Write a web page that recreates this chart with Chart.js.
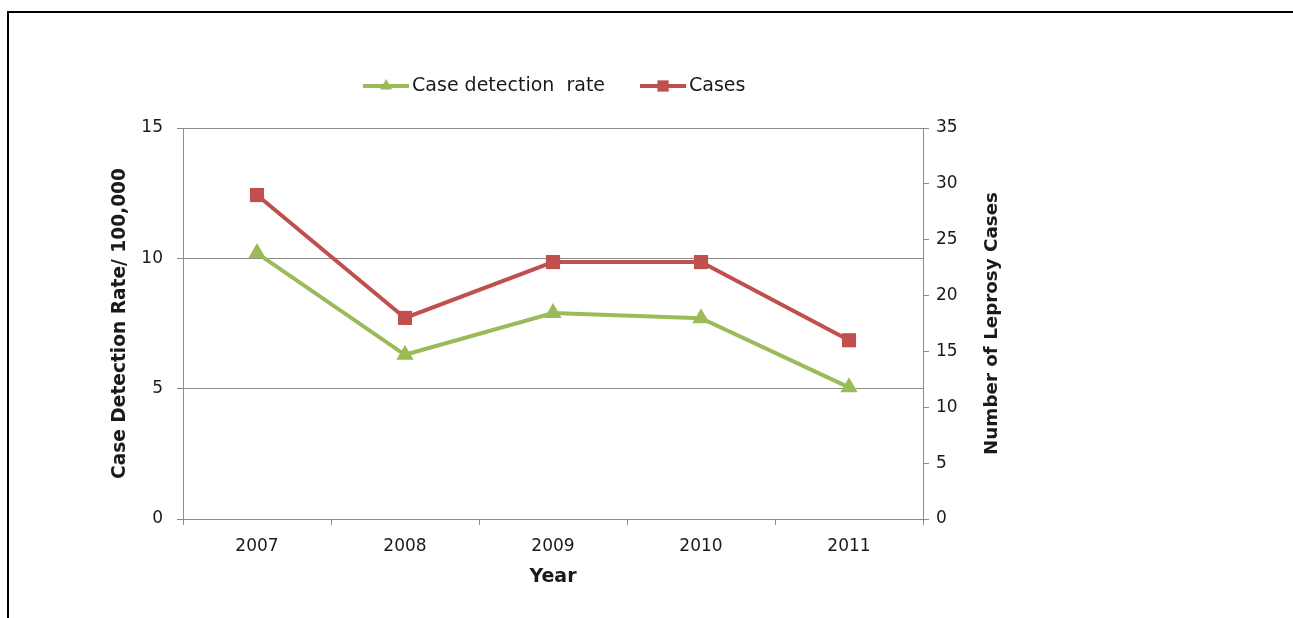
<!DOCTYPE html>
<html>
<head>
<meta charset="utf-8">
<title>Leprosy case detection</title>
<script src="https://cdn.jsdelivr.net/npm/chart.js@4.4.1/dist/chart.umd.min.js"></script>
<style>
  html, body { margin: 0; padding: 0; background: #fff; }
  #wrap { position: relative; width: 1293px; height: 618px; overflow: hidden; }
  #wrap canvas { position: absolute; left: 0; top: 0; }
  #frame { position: absolute; left: 7px; top: 11px; right: -10px; bottom: -10px;
           border-left: 2px solid #000; border-top: 2px solid #000; }
</style>
</head>
<body>
<div id="wrap">
  <canvas id="chart" width="1293" height="618"></canvas>
  <div id="frame"></div>
</div>
<script>
// data
const years = ['2007', '2008', '2009', '2010', '2011'];
const detectionRate = [10.2, 6.3, 7.9, 7.7, 5.05];
const leprosyCases = [29, 18, 23, 23, 16];
const rateTicks = [0, 5, 10, 15];
const caseTicks = [0, 5, 10, 15, 20, 25, 30, 35];

const GREEN = '#9bbb59';
const RED = '#c0504d';
const AXIS_GREY = '#8c8c8c';
const TEXT = '#1a1a1a';

Chart.defaults.font.family = '"DejaVu Sans", Verdana, sans-serif';
Chart.defaults.color = TEXT;

// legend icon: short line with the marker on it, like the office legend
function legendIcon(color, style) {
    const c = document.createElement('canvas');
    c.width = 46;
    c.height = 16;
    const g = c.getContext('2d');
    g.strokeStyle = color;
    g.fillStyle = color;
    g.lineWidth = 4;
    g.beginPath();
    g.moveTo(0, 8);
    g.lineTo(46, 8);
    g.stroke();
    Chart.helpers.drawPoint(g, { pointStyle: style, radius: style === 'rect' ? 8 : 7, borderWidth: 0 }, 23, 8);
    return c;
}
const legendIcons = [legendIcon(GREEN, 'triangle'), legendIcon(RED, 'rect')];

// extra room between the legend and the plot
const legendGap = {
    id: 'legendGap',
    beforeInit(chart) {
        const fit = chart.legend.fit;
        chart.legend.fit = function () {
            fit.call(this);
            this.height += 22.5;
        };
    }
};

// right axis title reads bottom-to-top in the original
const rightTitle = {
    id: 'rightTitle',
    afterDraw(chart) {
        const { ctx, chartArea } = chart;
        const scale = chart.scales.y1;
        ctx.save();
        ctx.font = 'bold 18.3px "DejaVu Sans", Verdana, sans-serif';
        ctx.fillStyle = TEXT;
        ctx.textAlign = 'center';
        ctx.textBaseline = 'middle';
        ctx.translate(scale.left + 69, (chartArea.top + chartArea.bottom) / 2);
        ctx.rotate(-Math.PI / 2);
        ctx.fillText('Number of Leprosy Cases', 0, 0);
        ctx.restore();
    }
};

const ctx = document.getElementById('chart');
new Chart(ctx, {
    type: 'line',
    data: {
        labels: years,
        datasets: [{
            label: 'Case detection  rate',
            data: detectionRate,
            yAxisID: 'y',
            borderColor: GREEN,
            backgroundColor: GREEN,
            borderWidth: 4,
            pointStyle: 'triangle',
            pointRadius: 10,
            pointBorderWidth: 0,
            tension: 0
        }, {
            label: 'Cases',
            data: leprosyCases,
            yAxisID: 'y1',
            borderColor: RED,
            backgroundColor: RED,
            borderWidth: 4,
            pointStyle: 'rect',
            pointRadius: 10,
            pointBorderWidth: 0,
            tension: 0
        }]
    },
    options: {
        responsive: false,
        animation: false,
        layout: { padding: { left: 100, right: 278, top: 35, bottom: 24 } },
        plugins: {
            tooltip: { enabled: false },
            legend: {
                position: 'top',
                labels: {
                    usePointStyle: true,
                    pointStyleWidth: 33,
                    padding: 41.5,
                    color: TEXT,
                    font: { size: 19 },
                    generateLabels(chart) {
                        const items = Chart.defaults.plugins.legend.labels.generateLabels(chart);
                        items.forEach((item, i) => { item.pointStyle = legendIcons[i]; });
                        return items;
                    }
                }
            }
        },
        scales: {
            x: {
                offset: true,
                grid: { offset: true, drawOnChartArea: false, color: AXIS_GREY, tickLength: 6 },
                border: { color: AXIS_GREY },
                ticks: { padding: 11, maxRotation: 0, font: { size: 17 } },
                title: {
                    display: true,
                    text: 'Year',
                    font: { size: 19, weight: 'bold' },
                    padding: { top: 0, bottom: 6 }
                },
                afterFit(scale) { scale.height = 75; }
            },
            y: {
                position: 'left',
                min: rateTicks[0],
                max: rateTicks[rateTicks.length - 1],
                ticks: { stepSize: rateTicks[1] - rateTicks[0], padding: 14, font: { size: 17 } },
                grid: { color: AXIS_GREY, tickLength: 6 },
                border: { color: AXIS_GREY },
                title: {
                    display: true,
                    text: 'Case Detection Rate/ 100,000',
                    font: { size: 18.6, weight: 'bold' },
                    padding: { top: 9, bottom: 0 }
                },
                afterFit(scale) { scale.width = 83; }
            },
            y1: {
                position: 'right',
                min: caseTicks[0],
                max: caseTicks[caseTicks.length - 1],
                ticks: { stepSize: caseTicks[1] - caseTicks[0], padding: 7, font: { size: 17 } },
                grid: { drawOnChartArea: false, color: AXIS_GREY, tickLength: 6 },
                border: { color: AXIS_GREY },
                afterFit(scale) { scale.width = 92; }
            }
        }
    },
    plugins: [legendGap, rightTitle]
});
</script>
</body>
</html>
